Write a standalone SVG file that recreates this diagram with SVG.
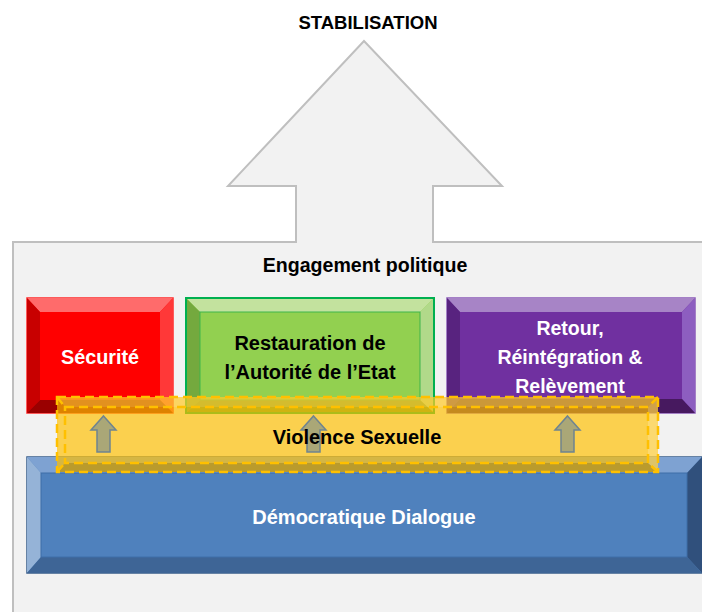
<svg xmlns="http://www.w3.org/2000/svg" width="702" height="612" viewBox="0 0 702 612">
<style>
.t{font-family:"Liberation Sans",Arial,sans-serif;font-weight:bold;text-anchor:middle}
.w{fill:#ffffff}
.k{fill:#000000}
.dash{fill:none;stroke:#ffc000;stroke-width:2.5;stroke-dasharray:9 5}
.sa{fill:#8f9a86;fill-opacity:0.75;stroke:#6f8490;stroke-width:1.5}
</style>
<rect width="702" height="612" fill="#ffffff"/>
<g id="stabilisation">
<path d="M13,614 L13,242 L296,242 L296,186 L228,186 L364,41 L502,186 L433,186 L433,242 L706,242 L706,614 Z" fill="#f2f2f2" stroke="#bfbfbf" stroke-width="2"/>
<text class="t k" x="368" y="29" font-size="18.5">STABILISATION</text>
<text class="t k" x="365" y="272" font-size="19.6">Engagement politique</text>
</g>
<g id="securite">
<rect x="27" y="298" width="146" height="115" fill="#ff0000" stroke="#ff2a2a" stroke-width="1.5"/>
<polygon points="27,298 173,298 160,312 40,312" fill="#ff6b6b"/>
<polygon points="27,298 40,312 40,400 27,413" fill="#c80000"/>
<polygon points="173,298 160,312 160,400 173,413" fill="#ff3838"/>
<polygon points="27,413 40,400 160,400 173,413" fill="#9a0000"/>
<rect x="40" y="312" width="120" height="88" fill="#ff0000"/>
<text class="t w" x="100" y="364" font-size="19.8">Sécurité</text>
</g>
<g id="restauration">
<rect x="186" y="298" width="248" height="115" fill="#92d050" stroke="#00b050" stroke-width="2"/>
<polygon points="187,299 433,299 420,312 200,312" fill="#c3e29e"/>
<polygon points="187,299 200,312 200,400 187,412" fill="#74a93e"/>
<polygon points="433,299 420,312 420,400 433,412" fill="#b1d98a"/>
<polygon points="187,412 200,400 420,400 433,412" fill="#6b9a38"/>
<rect x="200" y="312" width="220" height="88" fill="#92d050" stroke="#3fb54a" stroke-width="1"/>
<text class="t k" x="310" y="350" font-size="20">Restauration de</text>
<text class="t k" x="310" y="379" font-size="20">l’Autorité de l’Etat</text>
</g>
<g id="retour">
<rect x="447" y="298" width="248" height="115" fill="#7030a0" stroke="#8b5bb8" stroke-width="1.5"/>
<polygon points="447,298 695,298 682,312 460,312" fill="#a784c6"/>
<polygon points="447,298 460,312 460,399 447,413" fill="#58237f"/>
<polygon points="695,298 682,312 682,399 695,413" fill="#8d5ec0"/>
<polygon points="447,413 460,399 682,399 695,413" fill="#47195f"/>
<rect x="460" y="312" width="222" height="87" fill="#7030a0"/>
<text class="t w" x="570" y="335" font-size="19.5">Retour,</text>
<text class="t w" x="570" y="364" font-size="19.5">Réintégration &amp;</text>
<text class="t w" x="570" y="393" font-size="19.5">Relèvement</text>
</g>
<g id="dialogue">
<rect x="27" y="457" width="675" height="116" fill="#4f81bd" stroke="#385d8a" stroke-width="1.5"/>
<polygon points="27,457 702,457 687,473 41,473" fill="#7ea2d2"/>
<polygon points="27,457 41,473 41,557 27,573" fill="#95b3d7"/>
<polygon points="702,457 687,473 687,557 702,573" fill="#30507c"/>
<polygon points="27,573 41,557 687,557 702,573" fill="#3e6596"/>
<rect x="41" y="473" width="646" height="84" fill="#4f81bd" stroke="#3f6ea8" stroke-width="1"/>
<text class="t w" x="364" y="524" font-size="20">Démocratique Dialogue</text>
</g>
<g id="violence">
<rect x="57" y="397" width="601" height="75" fill="#ffc000" fill-opacity="0.68"/>
<polygon points="57,472 65,463 648,463 658,472" fill="#8a6a00" fill-opacity="0.35"/>
<polygon points="658,397 648,407 648,463 658,472" fill="#ffffff" fill-opacity="0.2"/>
<polygon points="57,397 658,397 648,407 65,407" fill="#ffffff" fill-opacity="0.12"/>
<rect class="dash" x="57" y="397" width="601" height="75"/>
<rect class="dash" x="65" y="407" width="583" height="56"/>
<path class="dash" d="M57,397 L65,407 M658,397 L648,407 M57,472 L65,463 M658,472 L648,463"/>
</g>
<g id="connectors">
<path class="sa" d="M103.5,416 L116,430 L110,430 L110,452 L97,452 L97,430 L91,430 Z"/>
<path class="sa" d="M313.5,416 L326,430 L320,430 L320,452 L307,452 L307,430 L301,430 Z"/>
<path class="sa" d="M567.5,416 L580,430 L574,430 L574,452 L561,452 L561,430 L555,430 Z"/>
</g>
<text class="t k" x="357" y="444" font-size="20">Violence Sexuelle</text>
</svg>
